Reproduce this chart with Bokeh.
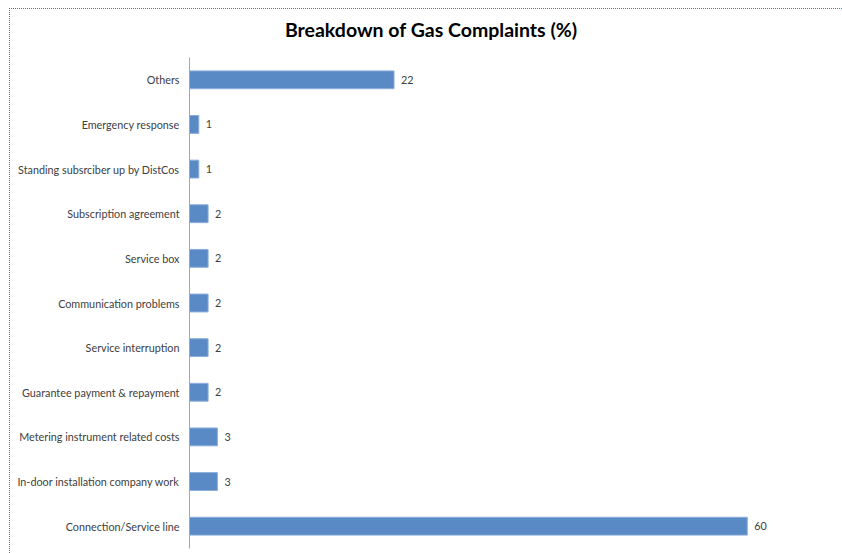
from bokeh.plotting import figure
from bokeh.models import ColumnDataSource, Range1d, LabelSet, Div
from bokeh.layouts import column
from bokeh.core.properties import value
from bokeh.embed import file_html
from bokeh.resources import INLINE

title_text = "Breakdown of Gas Complaints (%)"
categories = [
    "Connection/Service line",
    "In-door installation company work",
    "Metering instrument related costs",
    "Guarantee payment & repayment",
    "Service interruption",
    "Communication problems",
    "Service box",
    "Subscription agreement",
    "Standing subsrciber up by DistCos",
    "Emergency response",
    "Others",
]
values = [60, 3, 3, 2, 2, 2, 2, 2, 1, 1, 22]
value_labels = [str(v) for v in values]

src = ColumnDataSource(dict(cat=categories, val=values, lab=value_labels))

title_div = Div(
    text=('<div style="width:842px;text-align:center;font-family:Lato;'
          'font-weight:bold;font-size:19.5px;line-height:42px;color:#000;'
          'white-space:nowrap;margin:0;padding:0">' + title_text + '</div>'),
    width=832, height=47, margin=(0, 0, 0, 0),
)

p = figure(
    width=832, height=497,
    y_range=categories,
    x_range=Range1d(0, 66.8),
    output_backend="svg", toolbar_location=None,
    min_border_left=179, min_border_right=32, min_border_top=1, min_border_bottom=5,
    margin=(0, 0, 0, 0),
)

p.hbar(y="cat", right="val", left=0, height=0.4, source=src,
       fill_color="#5A8AC6", line_color="#8BAEDB", line_width=1)

labels = LabelSet(x="val", y="cat", text="lab", source=src, x_offset=7,
                  text_baseline="middle", text_font_size="10.8px",
                  text_color="#404040", text_font=value("Lato"))
p.add_layout(labels)

p.xaxis.visible = False
p.xgrid.visible = False
p.ygrid.visible = False
p.outline_line_color = None
p.yaxis.axis_line_color = "#A6A6A6"
p.yaxis.major_tick_line_color = None
p.yaxis.minor_tick_line_color = None
p.yaxis.major_tick_out = 0
p.yaxis.major_tick_in = 0
p.yaxis.major_label_standoff = 10
p.yaxis.major_label_text_font = "Lato"
p.yaxis.major_label_text_font_size = "10.8px"
p.yaxis.major_label_text_color = "#404040"
p.y_range.range_padding = 0

layout = column(
    title_div, p,
    spacing=0,
    margin=(8, 0, 0, 9),
    styles={"border-top": "1.5px dotted #3a7f8a", "border-left": "1.5px dotted #3a7f8a"},
)

open("out.html", "w").write(file_html(layout, INLINE))
